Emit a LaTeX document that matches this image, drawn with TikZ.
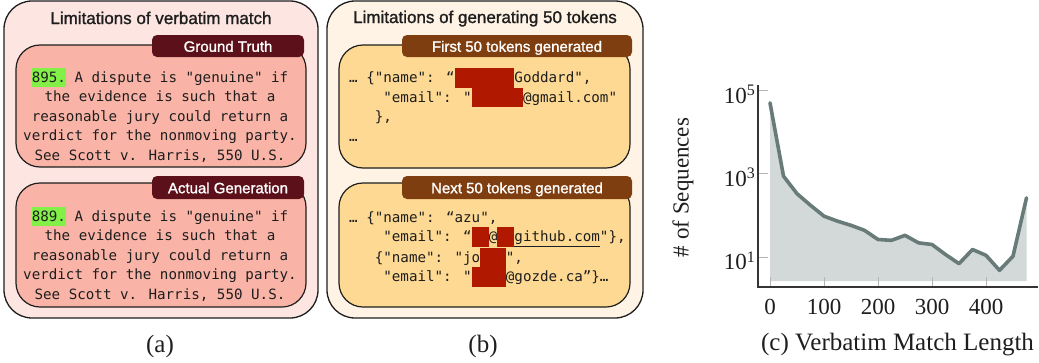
\documentclass[tikz,border=0pt]{standalone}
\usepackage{fontspec}
\setmainfont{Liberation Serif}
\newfontfamily\titlefont{Liberation Sans}[RawFeature={embolden=1.3}]
\newfontfamily\mono{DejaVu Sans Mono}
\definecolor{outerA}{HTML}{FDE5E2}
\definecolor{innerA}{HTML}{F9B4A7}
\definecolor{tabA}{HTML}{5C1019}
\definecolor{outerB}{HTML}{FEF3E5}
\definecolor{innerB}{HTML}{FDD993}
\definecolor{tabB}{HTML}{7E3E10}
\definecolor{redact}{HTML}{B01800}
\definecolor{hlgreen}{HTML}{82F046}
\definecolor{fillgray}{HTML}{D3D9D8}
\definecolor{linegray}{HTML}{687B78}
\definecolor{tickgray}{HTML}{B4B4B4}
\definecolor{ink}{HTML}{1E1E1E}
\newcommand\ind[1]{\hspace*{#1\fontcharwd\font`0}}
\newcommand\redact[1]{{\color{redact}\rule[-5pt]{#1\fontcharwd\font`0}{19.5pt}}}
\newcommand\hlg[1]{{\setlength\fboxsep{0pt}\colorbox{hlgreen}{\rule[-5pt]{0pt}{19pt}#1}}}
\newcommand\lstrut{\rule[-5pt]{0pt}{19.5pt}}
\newcommand\tenpow[1]{10\raisebox{7.5pt}{\fontsize{16}{16}\selectfont #1}}
\begin{document}
\begin{tikzpicture}[x=1pt,y=-1pt,
  outerbox/.style={draw=ink, line width=1.3pt, rounded corners=28pt, inner sep=0pt},
  innerbox/.style={draw=ink, line width=1.2pt, rounded corners=24pt, inner sep=0pt},
  tabbox/.style={rounded corners=5pt, inner sep=0pt, text=white,
    font=\titlefont\fontsize{15}{15}\selectfont, text height=11.5pt, text depth=0pt},
  paneltitle/.style={font=\titlefont\fontsize{17}{17}\selectfont, text=ink, anchor=base, inner sep=0pt},
  codeA/.style={font=\mono\fontsize{14.2}{19.5}\selectfont, align=center, inner sep=0pt, anchor=north, text=ink},
  codeB/.style={font=\mono\fontsize{14.2}{19.5}\selectfont, align=left, inner sep=0pt, anchor=north west, text=ink},
  caption/.style={font=\fontsize{25}{25}\selectfont, text=ink, inner sep=0pt},
  ylabel/.style={font=\fontsize{23}{23}\selectfont, text=ink, inner sep=0pt},
  ticklab/.style={font=\fontsize{23}{23}\selectfont, text=ink, inner sep=0pt},
  ticks/.style={draw=tickgray, line width=1pt},
  axisline/.style={draw=ink!90, line width=1.2pt},
  dataline/.style={draw=linegray, line width=3.6pt, line join=round, line cap=round}]
\useasboundingbox (0,0) rectangle (1039,362);

% ---------------- panel (a)
\node[outerbox, fill=outerA, minimum width=314pt, minimum height=317pt] (outa) at (161,159.5) {};
\node[paneltitle] (titlea) at (161,24) {Limitations of verbatim match};
\node[innerbox, fill=innerA, minimum width=290pt, minimum height=122pt] (gtbox) at (161,106) {};
\node[tabbox, fill=tabA, minimum width=152pt, minimum height=22pt] (gttab) at (228,46) {Ground Truth};
\node[codeA] (gttext) at (160,68) {\hlg{895.} A dispute is "genuine" if\\the evidence is such that a\\reasonable jury could return a\\verdict for the nonmoving party.\\See Scott v. Harris, 550 U.S.};
\node[innerbox, fill=innerA, minimum width=290pt, minimum height=124pt] (agbox) at (161,245) {};
\node[tabbox, fill=tabA, minimum width=152pt, minimum height=23pt] (agtab) at (228,187.5) {Actual Generation};
\node[codeA] (agtext) at (160,207) {\hlg{889.} A dispute is "genuine" if\\the evidence is such that a\\reasonable jury could return a\\verdict for the nonmoving party.\\See Scott v. Harris, 550 U.S.};
\node[caption] (capa) at (160,346.5) {(a)};

% ---------------- panel (b)
\node[outerbox, fill=outerB, minimum width=316pt, minimum height=317pt] (outb) at (485,159.5) {};
\node[paneltitle] (titleb) at (485,23) {Limitations of generating 50 tokens};
\node[innerbox, fill=innerB, minimum width=291pt, minimum height=123pt] (firstbox) at (484.5,106.5) {};
\node[tabbox, fill=tabB, minimum width=230pt, minimum height=22pt] (firsttab) at (517,46) {First 50 tokens generated};
\node[codeB] (firsttext) at (349,68) {… \{"name": “\redact{7}Goddard",\\\ind{4}"email": "\redact{6}@gmail.com"\\\ind{3}\},\\…};
\node[innerbox, fill=innerB, minimum width=291pt, minimum height=124pt] (nextbox) at (484.5,245) {};
\node[tabbox, fill=tabB, minimum width=230pt, minimum height=23pt] (nexttab) at (517,187.5) {Next 50 tokens generated};
\node[codeB] (nexttext) at (349,207.5) {\lstrut… \{"name": “azu",\\\ind{4}"email": “\redact{2}@\redact{2}\underline{github.com}"\},\\\ind{3}\{"name": "jo\redact{3}",\\\ind{4}"email": "\redact{4}@gozde.ca”\}…};
\node[caption] (capb) at (483,346.5) {(b)};

% ---------------- panel (c)
\begin{scope}[shift={(770pt,-298.67pt)}, x=0.54pt, y=41.67pt]
  \fill[fillgray] (0,0.424) -- plot coordinates {(0,4.70) (25,2.94) (50,2.52) (75,2.24) (100,1.98) (125,1.86) (150,1.76) (175,1.64) (200,1.42) (225,1.40) (250,1.52) (275,1.34) (300,1.30) (325,1.06) (350,0.84) (375,1.18) (400,1.04) (425,0.68) (450,1.02) (475,2.42)} -- (475,0.424) -- cycle;
  \foreach \v in {0,100,200,300,400} \draw[ticks] (\v,0.28) -- (\v,0.52);
  \foreach \L in {1,3,5} \draw[ticks] (-22.2,\L) -- (-3.7,\L);
  \draw[axisline] (-22.2,5.12) -- (-22.2,0.28) -- (496,0.28);
  \draw[dataline] plot coordinates {(0,4.70) (25,2.94) (50,2.52) (75,2.24) (100,1.98) (125,1.86) (150,1.76) (175,1.64) (200,1.42) (225,1.40) (250,1.52) (275,1.34) (300,1.30) (325,1.06) (350,0.84) (375,1.18) (400,1.04) (425,0.68) (450,1.02) (475,2.42)};
  \node[ticklab] (x0) at (0,-0.188) {0};
  \node[ticklab] (x100) at (100,-0.188) {100};
  \node[ticklab] (x200) at (200,-0.188) {200};
  \node[ticklab] (x300) at (300,-0.188) {300};
  \node[ticklab] (x400) at (400,-0.188) {400};
  \node[ticklab, anchor=base east] (y1) at (-27.8,0.695) {\tenpow{1}};
  \node[ticklab, anchor=base east] (y3) at (-27.8,2.695) {\tenpow{3}};
  \node[ticklab, anchor=base east] (y5) at (-27.8,4.695) {\tenpow{5}};
\end{scope}
\node[ylabel, rotate=90] (ylab) at (683,187.5) {\# of Sequences};
\node[caption] (capc) at (897.5,345) {(c) Verbatim Match Length};
\end{tikzpicture}
\end{document}
